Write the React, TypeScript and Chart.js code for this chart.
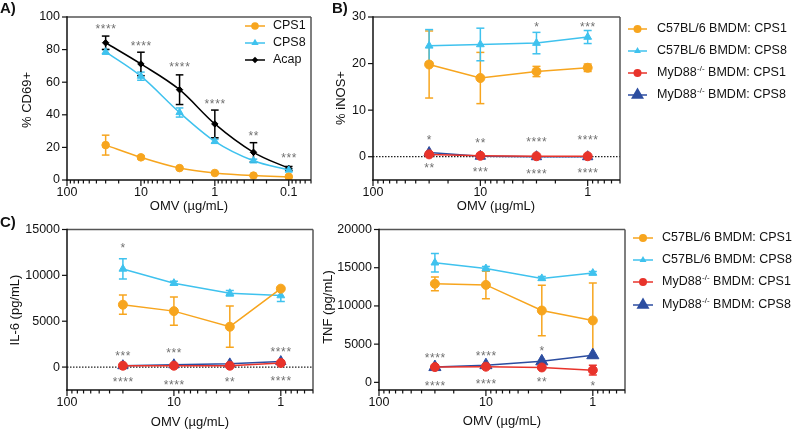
import React, { useEffect, useRef } from "react";
import { Chart, registerables } from "chart.js";
Chart.register(...registerables);

const FONT = "'Liberation Sans', Arial, Helvetica, sans-serif";

const ORANGE = "#F7A51E";
const CYAN = "#3FC2EE";
const BLACK = "#000000";
const RED = "#E8332B";
const NAVY = "#2C4DA0";

// ---------- Panel A: % CD69+ ----------
const doseA = [30, 10, 3, 1, 0.3, 0.1];
const cd69Cps1 = [21.4, 13.9, 7.3, 4.3, 2.7, 2.0];
const cd69Cps1Err = [6.1, 0.9, 0.7, 0.5, 0.4, 0.3];
const cd69Cps8 = [78.6, 63.7, 41.4, 23.7, 11.8, 6.1];
const cd69Cps8Err = [1.4, 2.5, 2.8, 1.2, 1.0, 0.8];
const cd69Acap = [84.2, 71.2, 55.4, 34.4, 17.0, 7.1];
const cd69AcapErr = [4.1, 7.2, 9.1, 8.5, 5.9, 1.2];
const starsAX = [30, 10, 3, 1, 0.3, 0.1];
const starsAY = [94.5, 83.7, 71, 48.4, 29, 15.3];
const starsAText = ["****", "****", "****", "****", "**", "***"];
const legendALabels = ["CPS1", "CPS8", "Acap"];
const yTicksA = [0, 20, 40, 60, 80, 100];

// ---------- Panel B: % iNOS+ ----------
const doseB = [30, 10, 3, 1];
const inosC57Cps1 = [19.8, 16.9, 18.3, 19.1];
const inosC57Cps1Err = [7.2, 5.5, 1.1, 0.8];
const inosC57Cps8 = [23.8, 24.1, 24.4, 25.7];
const inosC57Cps8Err = [3.5, 3.5, 2.3, 1.4];
const inosMydCps1 = [0.5, 0.2, 0.1, 0.1];
const inosMydCps8 = [0.9, 0.1, 0.0, 0.0];
const starsBX = [30, 10, 3, 1, 30, 10, 3, 1, 3, 1];
const starsBY = [4.1, 3.6, 3.7, 4.1, -1.9, -2.6, -3.1, -2.8, 28.4, 28.4];
const starsBText = ["*", "**", "****", "****", "**", "***", "****", "****", "*", "***"];
const yTicksB = [0, 10, 20, 30];

// ---------- Panel C: IL-6 ----------
const doseC = [30, 10, 3, 1];
const il6C57Cps1 = [6800, 6100, 4400, 8550];
const il6C57Cps1Err = [1050, 1550, 2250, 150];
const il6C57Cps8 = [10700, 9150, 8050, 7800];
const il6C57Cps8Err = [1100, 200, 300, 650];
const il6MydCps1 = [150, 150, 150, 450];
const il6MydCps8 = [150, 250, 350, 600];
const starsCX = [30, 30, 10, 1, 30, 10, 3, 1];
const starsCY = [13300, 1500, 1850, 2000, -1300, -1700, -1300, -1200];
const starsCText = ["*", "***", "***", "****", "****", "****", "**", "****"];
const yTicksC = [0, 5000, 10000, 15000];

// ---------- Panel D: TNF ----------
const doseD = [30, 10, 3, 1];
const tnfC57Cps1 = [12900, 12750, 9400, 8100];
const tnfC57Cps1Err = [900, 1800, 3300, 4900];
const tnfC57Cps8 = [15650, 14900, 13600, 14300];
const tnfC57Cps8Err = [1200, 250, 250, 200];
const tnfMydCps1 = [2000, 2050, 1950, 1600];
const tnfMydCps1Err = [0, 0, 0, 650];
const tnfMydCps8 = [2000, 2250, 2750, 3550];
const starsDX = [30, 10, 3, 30, 10, 3, 1];
const starsDY = [3550, 3800, 4500, -100, 150, 450, -100];
const starsDText = ["****", "****", "*", "****", "****", "**", "*"];
const yTicksD = [0, 5000, 10000, 15000, 20000];

const bmdmLabels = [
  ["C57BL/6 BMDM: CPS1", "", ""],
  ["C57BL/6 BMDM: CPS8", "", ""],
  ["MyD88", "-/-", " BMDM: CPS1"],
  ["MyD88", "-/-", " BMDM: CPS8"],
];

function isPow10(v: number) {
  const l = Math.log10(v);
  return Math.abs(l - Math.round(l)) < 1e-6;
}
function fmt(v: number) {
  return v >= 1 ? String(Math.round(v)) : String(Number(v.toFixed(4)));
}
function xTickValues(min: number, max: number) {
  const out: number[] = [];
  for (let e = Math.floor(Math.log10(min)); e <= Math.ceil(Math.log10(max)); e++) {
    for (let m = 1; m <= 9; m++) {
      const v = m * Math.pow(10, e);
      if (v >= min * 0.9999 && v <= max * 1.0001) out.push(v);
    }
  }
  return out;
}

function drawMarker(ctx: CanvasRenderingContext2D, style: string, x: number, y: number, r: number, color: string) {
  ctx.save();
  ctx.fillStyle = color;
  ctx.strokeStyle = color;
  ctx.beginPath();
  if (style === "circle") {
    ctx.arc(x, y, r, 0, Math.PI * 2);
  } else if (style === "triangle") {
    for (let k = 0; k < 3; k++) {
      const a = (k * 2 * Math.PI) / 3;
      const px = x + Math.sin(a) * r;
      const py = y - Math.cos(a) * r;
      if (k === 0) ctx.moveTo(px, py);
      else ctx.lineTo(px, py);
    }
    ctx.closePath();
  } else {
    ctx.moveTo(x, y - r);
    ctx.lineTo(x + r, y);
    ctx.lineTo(x, y + r);
    ctx.lineTo(x - r, y);
    ctx.closePath();
  }
  ctx.fill();
  ctx.restore();
}

function seg(ctx: CanvasRenderingContext2D, x1: number, y1: number, x2: number, y2: number) {
  ctx.beginPath();
  ctx.moveTo(x1, y1);
  ctx.lineTo(x2, y2);
  ctx.stroke();
}

const panelPlugin = {
  id: "panel",
  beforeDatasetsDraw(chart: any, _a: any, o: any) {
    const ctx: CanvasRenderingContext2D = chart.ctx;
    const { left, right, top, bottom } = chart.chartArea;
    const ys = chart.scales.y;
    if (o.zeroLine) {
      ctx.save();
      ctx.strokeStyle = "#222";
      ctx.lineWidth = 1.2;
      ctx.setLineDash([1.5, 1.5]);
      const py = ys.getPixelForValue(0);
      seg(ctx, left, py, right, py);
      ctx.restore();
    }
    ctx.save();
    ctx.beginPath();
    ctx.rect(left, top - 2, right - left, bottom - top + 2);
    ctx.clip();
    chart.data.datasets.forEach((ds: any, i: number) => {
      const err = ds.errorBars;
      if (!err) return;
      const meta = chart.getDatasetMeta(i);
      ctx.strokeStyle = ds.borderColor;
      ctx.lineWidth = 1.5;
      meta.data.forEach((el: any, j: number) => {
        const e = err[j];
        if (!e) return;
        const v = ds.data[j].y;
        const y1 = ys.getPixelForValue(v + e);
        const y2 = ys.getPixelForValue(v - e);
        const cw = o.cap || 4;
        seg(ctx, el.x, y1, el.x, y2);
        seg(ctx, el.x - cw, y1, el.x + cw, y1);
        seg(ctx, el.x - cw, y2, el.x + cw, y2);
      });
    });
    ctx.restore();
  },
  afterDraw(chart: any, _a: any, o: any) {
    const ctx: CanvasRenderingContext2D = chart.ctx;
    const { left, right, top, bottom } = chart.chartArea;
    const xs = chart.scales.x;
    const ys = chart.scales.y;
    ctx.save();
    // frame
    ctx.lineWidth = 1.5;
    ctx.strokeStyle = "#555";
    seg(ctx, left, top, right, top);
    seg(ctx, right, top, right, bottom);
    ctx.strokeStyle = "#111";
    seg(ctx, left, top - 0.75, left, bottom + 0.75);
    seg(ctx, left - 0.75, bottom, right, bottom);
    // ticks
    ctx.lineWidth = 1.2;
    xs.ticks.forEach((t: any) => {
      const px = xs.getPixelForValue(t.value);
      const len = isPow10(t.value) ? 6 : 3.5;
      seg(ctx, px, bottom, px, bottom + len);
    });
    ys.ticks.forEach((t: any) => {
      const py = ys.getPixelForValue(t.value);
      seg(ctx, left - 5, py, left, py);
    });
    // significance stars
    ctx.fillStyle = "#707070";
    ctx.font = `12px ${FONT}`;
    (ctx as any).letterSpacing = "0.6px";
    ctx.textAlign = "center";
    ctx.textBaseline = "alphabetic";
    (o.starsX || []).forEach((sx: number, k: number) => {
      ctx.fillText(o.starsText[k], xs.getPixelForValue(sx) + 0.3, ys.getPixelForValue(o.starsY[k]) + 6.8);
    });
    (ctx as any).letterSpacing = "0px";
    // legend
    if (o.legend) {
      const L = o.legend;
      L.items.forEach((it: any, k: number) => {
        const y = L.rows[k];
        ctx.strokeStyle = it.color;
        ctx.lineWidth = 1.5;
        seg(ctx, L.x1, y, L.x2, y);
        drawMarker(ctx, it.style, (L.x1 + L.x2) / 2, y, it.r, it.color);
        ctx.fillStyle = "#111";
        ctx.textAlign = "left";
        ctx.textBaseline = "middle";
        ctx.font = `12.5px ${FONT}`;
        const [pre, sup, post] = it.text;
        ctx.fillText(pre, L.tx, y);
        let w = ctx.measureText(pre).width;
        if (sup) {
          ctx.font = `8px ${FONT}`;
          ctx.fillText(sup, L.tx + w + 0.5, y - 4.5);
          w += ctx.measureText(sup).width + 0.5;
          ctx.font = `12.5px ${FONT}`;
          ctx.fillText(post, L.tx + w, y);
        }
      });
    }
    // titles
    ctx.fillStyle = "#111";
    ctx.textAlign = "center";
    ctx.textBaseline = "middle";
    ctx.font = `13px ${FONT}`;
    ctx.fillText(o.xTitle, o.xTitlePos[0], o.xTitlePos[1]);
    ctx.save();
    ctx.translate(o.yTitlePos[0], o.yTitlePos[1]);
    ctx.rotate(-Math.PI / 2);
    ctx.fillText(o.yTitle, 0, 0);
    ctx.restore();
    if (o.panelLabel) {
      ctx.font = `bold 15px ${FONT}`;
      ctx.textAlign = "left";
      ctx.fillText(o.panelLabel, o.panelLabelPos[0], o.panelLabelPos[1]);
    }
    ctx.restore();
  },
};

function series(label: string, doses: number[], vals: number[], err: number[] | null, color: string, style: string, radius: number, smooth: boolean) {
  return {
    label,
    data: doses.map((d, i) => ({ x: d, y: vals[i] })),
    borderColor: color,
    backgroundColor: color,
    pointBackgroundColor: color,
    pointBorderColor: color,
    pointStyle: style,
    pointRadius: radius,
    pointBorderWidth: 1,
    borderWidth: 1.5,
    tension: smooth ? 0.4 : 0,
    cubicInterpolationMode: smooth ? "monotone" : "default",
    errorBars: err,
    fill: false,
  };
}

type Spec = {
  W: number;
  H: number;
  plot: { l: number; r: number; t: number; b: number };
  xMin: number;
  yMin: number;
  yMax: number;
  yTicks: number[];
  datasets: any[];
  panel: any;
};

function makeConfig(s: Spec): any {
  return {
    type: "line",
    data: { datasets: s.datasets },
    options: {
      responsive: false,
      animation: false,
      events: [],
      layout: { padding: { left: 0, right: s.W - s.plot.r, top: s.plot.t, bottom: 0 } },
      plugins: { legend: { display: false }, tooltip: { enabled: false }, panel: s.panel },
      scales: {
        x: {
          type: "logarithmic",
          reverse: true,
          min: s.xMin,
          max: 100,
          afterBuildTicks: (sc: any) => {
            sc.ticks = xTickValues(s.xMin, 100).map((v) => ({ value: v }));
          },
          afterFit: (sc: any) => {
            sc.height = s.H - s.plot.b;
          },
          grid: { display: false, drawTicks: false },
          border: { display: false },
          ticks: {
            autoSkip: false,
            maxRotation: 0,
            minRotation: 0,
            padding: 5,
            color: "#111",
            font: { family: FONT, size: 12.5 },
            callback: (v: any) => (isPow10(Number(v)) ? fmt(Number(v)) : ""),
          },
        },
        y: {
          type: "linear",
          min: s.yMin,
          max: s.yMax,
          afterBuildTicks: (sc: any) => {
            sc.ticks = s.yTicks.map((v) => ({ value: v }));
          },
          afterFit: (sc: any) => {
            sc.width = s.plot.l;
          },
          grid: { display: false, drawTicks: false },
          border: { display: false },
          ticks: {
            padding: 7,
            color: "#111",
            font: { family: FONT, size: 12.5 },
            callback: (v: any) => String(v),
          },
        },
      },
    },
    plugins: [panelPlugin],
  };
}

function bmdmDatasets(dose: number[], c1: number[], c1e: number[] | null, c8: number[], c8e: number[] | null, m1: number[], m1e: number[] | null, m8: number[], big: number) {
  return [
    series("C57BL/6 BMDM: CPS1", dose, c1, c1e, ORANGE, "circle", 4.5, false),
    series("C57BL/6 BMDM: CPS8", dose, c8, c8e, CYAN, "triangle", 4.5, false),
    series("MyD88-/- BMDM: CPS1", dose, m1, m1e, RED, "circle", 4.5, false),
    series("MyD88-/- BMDM: CPS8", dose, m8, null, NAVY, "triangle", big, false),
  ];
}

function bmdmLegend(x1: number, x2: number, tx: number, rows: number[]) {
  return {
    x1,
    x2,
    tx,
    rows,
    items: [
      { color: ORANGE, style: "circle", r: 4, text: bmdmLabels[0] },
      { color: CYAN, style: "triangle", r: 4, text: bmdmLabels[1] },
      { color: RED, style: "circle", r: 4, text: bmdmLabels[2] },
      { color: NAVY, style: "triangle", r: 7.5, text: bmdmLabels[3] },
    ],
  };
}

const specA: Spec = {
  W: 320,
  H: 215,
  plot: { l: 67, r: 311, t: 17, b: 180 },
  xMin: 0.05,
  yMin: 0,
  yMax: 100,
  yTicks: yTicksA,
  datasets: [
    series("CPS1", doseA, cd69Cps1, cd69Cps1Err, ORANGE, "circle", 3.8, true),
    series("CPS8", doseA, cd69Cps8, cd69Cps8Err, CYAN, "triangle", 4.2, true),
    series("Acap", doseA, cd69Acap, cd69AcapErr, BLACK, "rectRot", 3.2, true),
  ],
  panel: {
    cap: 3.8,
    starsX: starsAX,
    starsY: starsAY,
    starsText: starsAText,
    xTitle: "OMV (µg/mL)",
    xTitlePos: [189, 206],
    yTitle: "% CD69+",
    yTitlePos: [27, 100],
    panelLabel: "A)",
    panelLabelPos: [0, 9],
    legend: {
      x1: 245,
      x2: 265,
      tx: 273,
      rows: [26, 43, 60],
      items: [
        { color: ORANGE, style: "circle", r: 3.8, text: [legendALabels[0], "", ""] },
        { color: CYAN, style: "triangle", r: 4.2, text: [legendALabels[1], "", ""] },
        { color: BLACK, style: "diamond", r: 3.2, text: [legendALabels[2], "", ""] },
      ],
    },
  },
};

const specB: Spec = {
  W: 480,
  H: 215,
  plot: { l: 53, r: 300, t: 17, b: 180 },
  xMin: 0.5,
  yMin: -5,
  yMax: 30,
  yTicks: yTicksB,
  datasets: bmdmDatasets(doseB, inosC57Cps1, inosC57Cps1Err, inosC57Cps8, inosC57Cps8Err, inosMydCps1, null, inosMydCps8, 6),
  panel: {
    cap: 4,
    zeroLine: true,
    starsX: starsBX,
    starsY: starsBY,
    starsText: starsBText,
    xTitle: "OMV (µg/mL)",
    xTitlePos: [176, 206],
    yTitle: "% iNOS+",
    yTitlePos: [21, 98],
    panelLabel: "B)",
    panelLabelPos: [12, 9],
    legend: bmdmLegend(308, 327, 337, [29, 51, 73, 95]),
  },
};

const specC: Spec = {
  W: 320,
  H: 215,
  plot: { l: 67, r: 313, t: 12, b: 175 },
  xMin: 0.5,
  yMin: -2500,
  yMax: 15000,
  yTicks: yTicksC,
  datasets: bmdmDatasets(doseC, il6C57Cps1, il6C57Cps1Err, il6C57Cps8, il6C57Cps8Err, il6MydCps1, null, il6MydCps8, 6),
  panel: {
    cap: 4,
    zeroLine: true,
    starsX: starsCX,
    starsY: starsCY,
    starsText: starsCText,
    xTitle: "OMV (µg/mL)",
    xTitlePos: [190, 207],
    yTitle: "IL-6 (pg/mL)",
    yTitlePos: [15, 95],
    panelLabel: "C)",
    panelLabelPos: [0, 8],
  },
};

const specD: Spec = {
  W: 480,
  H: 215,
  plot: { l: 59, r: 305, t: 11, b: 175 },
  xMin: 0.5,
  yMin: -1000,
  yMax: 20000,
  yTicks: yTicksD,
  datasets: bmdmDatasets(doseD, tnfC57Cps1, tnfC57Cps1Err, tnfC57Cps8, tnfC57Cps8Err, tnfMydCps1, tnfMydCps1Err, tnfMydCps8, 7),
  panel: {
    cap: 4,
    zeroLine: false,
    starsX: starsDX,
    starsY: starsDY,
    starsText: starsDText,
    xTitle: "OMV (µg/mL)",
    xTitlePos: [182, 206],
    yTitle: "TNF (pg/mL)",
    yTitlePos: [8, 92],
    legend: bmdmLegend(313, 333, 342, [23, 45, 67, 90]),
  },
};

function Panel({ left, top, spec }: { left: number; top: number; spec: Spec }) {
  const ref = useRef<HTMLCanvasElement>(null);
  useEffect(() => {
    const chart = new Chart(ref.current as HTMLCanvasElement, makeConfig(spec));
    return () => chart.destroy();
  }, [spec]);
  return (
    <canvas
      ref={ref}
      width={spec.W}
      height={spec.H}
      style={{ position: "absolute", left, top, width: spec.W, height: spec.H }}
    />
  );
}

export default function App() {
  return (
    <div style={{ position: "fixed", left: 0, top: 0, width: 800, height: 430, background: "#fff" }}>
      <Panel left={0} top={0} spec={specA} />
      <Panel left={320} top={0} spec={specB} />
      <Panel left={0} top={215} spec={specC} />
      <Panel left={320} top={215} spec={specD} />
    </div>
  );
}
